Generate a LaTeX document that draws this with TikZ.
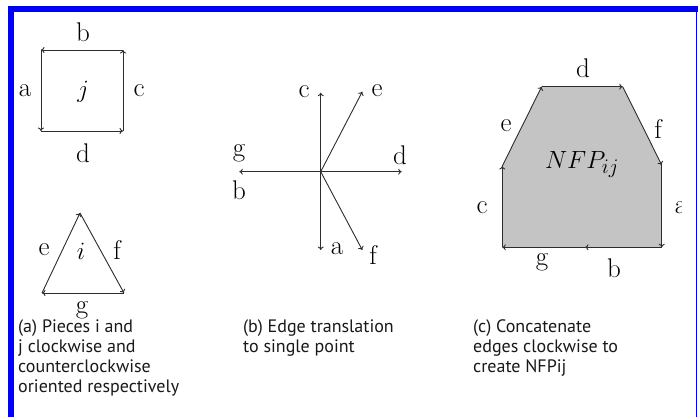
\documentclass[tikz,border=0pt]{standalone}
\usepackage{fontspec}
\newfontfamily\capfont{PT Sans}
\usetikzlibrary{arrows.meta}
\definecolor{framblue}{RGB}{0,0,245}
\definecolor{edgegray}{RGB}{45,45,45}
\definecolor{nfpgray}{RGB}{196,196,196}
\definecolor{captext}{RGB}{25,25,25}
\tikzset{
  edgeline/.style={draw=edgegray,line width=0.9pt,-{To[length=3.5pt,width=6pt]}},
  lbl/.style={inner sep=0pt,font=\fontsize{27}{30}\selectfont},
  caption/.style={inner sep=0pt,anchor=north west,align=left,text=captext,
    font=\capfont\fontsize{18}{20}\selectfont}
}
\begin{document}
\begin{tikzpicture}[x=1pt,y=-1pt]
\useasboundingbox (0,0) rectangle (698,417);
\fill[white] (0,0) rectangle (698,417);
% frame
\fill[framblue] (8,6) rectangle (697.5,12);
\fill[framblue] (8,6) rectangle (14,417);
\draw[framblue,line width=1.6pt] (696.5,12) -- (696.5,417);

% (a) square j
\coordinate (jtl) at (41,50);
\coordinate (jtr) at (123,50);
\coordinate (jbl) at (41,131);
\coordinate (jbr) at (123,131);
\draw[edgeline] (jtr) -- (jtl);
\draw[edgeline] (jtl) -- (jbl);
\draw[edgeline] (jbl) -- (jbr);
\draw[edgeline] (jbr) -- (jtr);
\node[lbl] (jb) at (83,32) {b};
\node[lbl] (ja) at (25,91) {a};
\node[lbl] (jc) at (139,91) {c};
\node[lbl] (jj) at (83,92) {$j$};
\node[lbl] (jd) at (83,153) {d};

% (a) triangle i
\coordinate (ttop) at (80,213);
\coordinate (tbl) at (42,293);
\coordinate (tbr) at (124,293);
\draw[edgeline] (tbl) -- (ttop);
\draw[edgeline] (ttop) -- (tbr);
\draw[edgeline] (tbr) -- (tbl);
\node[lbl] (te) at (44,250) {e};
\node[lbl] (ti) at (81,251) {$i$};
\node[lbl] (tf) at (117,250) {f};
\node[lbl] (tg) at (82,310.5) {g};

% (b) edge translation
\coordinate (o) at (320.7,171.7);
\coordinate (sc) at (320.7,92.7);
\coordinate (sa) at (320.7,250);
\coordinate (sg) at (239.3,171.7);
\coordinate (sd) at (401.7,171.7);
\coordinate (se) at (362.3,91.7);
\coordinate (sf) at (362.3,250);
\draw[edgeline] (o) -- (sc);
\draw[edgeline] (o) -- (sa);
\draw[edgeline] (o) -- (sg);
\draw[edgeline] (o) -- (sd);
\draw[edgeline] (o) -- (se);
\draw[edgeline] (o) -- (sf);
\node[lbl] (lc) at (304,92) {c};
\node[lbl] (le) at (377,91) {e};
\node[lbl] (lg) at (239,153) {g};
\node[lbl] (ld) at (400,155) {d};
\node[lbl] (lb) at (239,190) {b};
\node[lbl] (la) at (337,249) {a};
\node[lbl] (lf) at (373,255) {f};

% (c) NFP
\coordinate (p1) at (661.7,165);
\coordinate (p2) at (661.7,247.3);
\coordinate (p3) at (585,247.3);
\coordinate (p4) at (502.3,247.3);
\coordinate (p5) at (502.3,166);
\coordinate (p6) at (541.7,86.7);
\coordinate (p7) at (622.7,86.7);
\fill[nfpgray] (p1) -- (p2) -- (p4) -- (p5) -- (p6) -- (p7) -- cycle;
\draw[edgeline] (p1) -- (p2);
\draw[edgeline] (p2) -- (p3);
\draw[edgeline] (p3) -- (p4);
\draw[edgeline] (p4) -- (p5);
\draw[edgeline] (p5) -- (p6);
\draw[edgeline] (p6) -- (p7);
\draw[edgeline] (p7) -- (p1);
\node[lbl] (nd) at (583,68) {d};
\node[lbl] (ne) at (506,126) {e};
\node[lbl] (nf) at (658,129) {f};
\node[lbl,font=\fontsize{31}{34}\selectfont] (nn) at (582,165) {$NFP_{ij}$};
\node[lbl] (nc) at (482,208) {c};
\begin{scope}
\clip (670,190) rectangle (681,225);
\node[lbl] (na) at (681,208) {a};
\end{scope}
\node[lbl] (ng) at (542,262) {g};
\node[lbl] (nb) at (614,268) {b};

% captions
\node[caption] (capa) at (18,319) {(a) Pieces i and\\j clockwise and\\counterclockwise\\oriented respectively};
\node[caption] (capb) at (243,319) {(b) Edge translation\\to single point};
\node[caption] (capc) at (473,319) {(c) Concatenate\\edges clockwise to\\create NFPij};
\end{tikzpicture}
\end{document}
